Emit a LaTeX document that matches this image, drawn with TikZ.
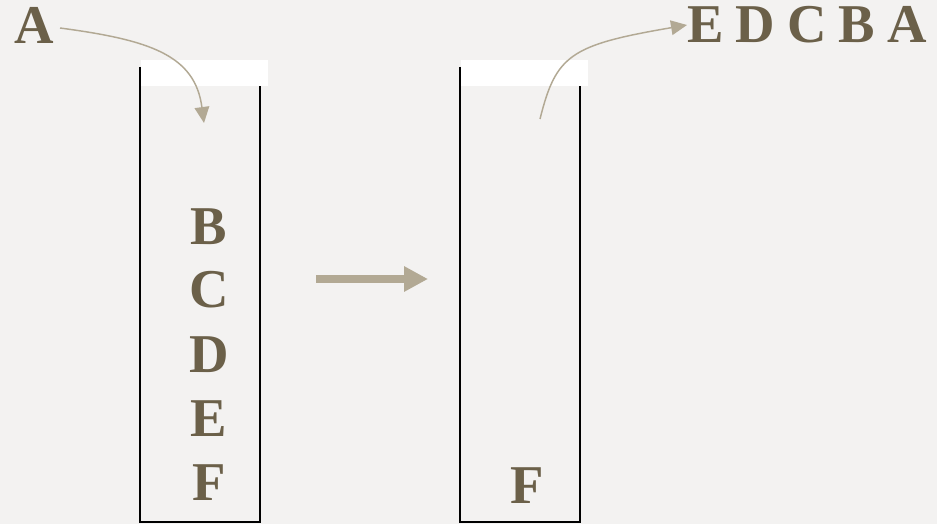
\documentclass[tikz,border=0pt]{standalone}
\usepackage{fontspec}
\setmainfont{Liberation Serif}
\usetikzlibrary{arrows.meta}
\definecolor{bgc}{HTML}{F3F2F1}
\definecolor{txtc}{HTML}{6B6049}
\definecolor{arrc}{HTML}{B2A994}
\tikzset{
  letter/.style={inner sep=0pt, text=txtc, font=\fontsize{41}{41}\selectfont\bfseries},
  wall/.style={draw=black, line width=1.5pt},
  lid/.style={fill=white, draw=none},
  thinarrow/.style={draw=arrc, line width=1.1pt, -{Triangle[length=12pt,width=11pt]}},
  bigarrow/.style={draw=arrc, line width=6pt, -{Triangle[length=18pt,width=18pt]}}
}
\begin{document}
\begin{tikzpicture}[x=0.75pt,y=-0.75pt]
\fill[bgc] (0,0) rectangle (937,524);
\useasboundingbox (0,0) rectangle (937,524);
% box 1
\draw[wall] (140,67) -- (140,522) -- (260,522) -- (260,67);
\fill[lid] (141,60) rectangle (268,86);
% box 2
\draw[wall] (460,67) -- (460,522) -- (580,522) -- (580,67);
\fill[lid] (461,60) rectangle (588,86);
% letters
\node[letter] (A) at (34,25) {A};
\node[letter] (B) at (209,227) {B};
\node[letter] (C) at (209,290) {C};
\node[letter] (D) at (209,355) {D};
\node[letter] (E) at (209,419) {E};
\node[letter] (F) at (209,483) {F};
\node[letter] (F2) at (527,486) {F};
\node[letter,anchor=west] (out) at (687,25) {\spaceskip=0.22em E D C B A};
% coordinates
\coordinate (in1) at (204,123);
\coordinate (src2) at (540,119);
\coordinate (bs) at (316,279);
\coordinate (be) at (428,279);
% arrows
\draw[thinarrow] (60,28) .. controls (150,40) and (195,55) .. (in1);
\draw[thinarrow] (src2) .. controls (556,55) and (570,45) .. (out.west);
\draw[bigarrow] (bs) -- (be);
\end{tikzpicture}
\end{document}
